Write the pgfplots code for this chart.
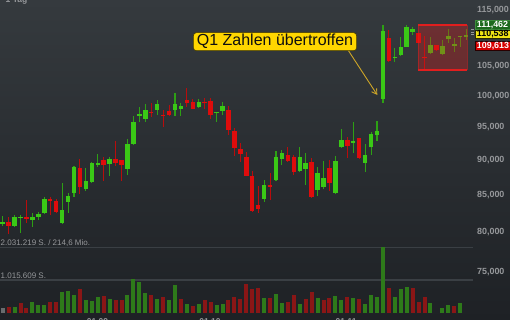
\documentclass[border=0pt]{standalone}
\usepackage{pgfplots}
\pgfplotsset{compat=1.18}
\usepackage{pgfplotstable}
\usepackage{fontspec}
\setmainfont{Liberation Sans}
\usetikzlibrary{arrows.meta}

\definecolor{bgtop}{RGB}{53,58,62}
\definecolor{bgbot}{RGB}{30,33,37}
\definecolor{cup}{RGB}{58,200,22}
\definecolor{cupw}{RGB}{45,160,20}
\definecolor{cdn}{RGB}{222,12,12}
\definecolor{cdnw}{RGB}{185,12,12}
\definecolor{vup}{RGB}{46,122,26}
\definecolor{vdn}{RGB}{138,22,22}
\definecolor{vgray}{RGB}{105,108,110}
\definecolor{lbl}{RGB}{150,152,155}
\definecolor{sepc}{RGB}{58,63,68}
\definecolor{boxred}{RGB}{225,30,30}
\definecolor{anno}{RGB}{255,214,0}
\definecolor{arrowc}{RGB}{205,165,40}
\definecolor{tagg}{RGB}{28,105,28}
\definecolor{tagy}{RGB}{240,228,20}
\definecolor{tagr}{RGB}{215,0,0}

% daily candles, index i = trading day
\pgfplotstableread{
i O H L C
0 81125 82190 80860 81320
2 80860 82370 80690 82100
3 81920 82290 79980 82100
5 81650 82640 80770 82020
6 82020 82770 81650 82460
7 82550 84710 82460 84550
10 81220 86700 81120 83000
11 84130 85380 82550 84960
12 85380 89190 84820 89080
14 85850 88850 85660 87070
15 86880 89730 86740 89580
16 89290 90910 89080 89670
18 89480 90550 87740 90250
21 88790 93250 87880 92400
22 92450 96830 92300 95830
23 96830 98260 95830 97050
24 96350 98690 95880 97680
26 97730 99340 96940 98690
29 97730 100430 96780 98690
30 97940 98810 96780 98370
33 98260 99450 98050 98930
36 97200 97420 95830 97410
37 97620 99010 96890 98370
44 84460 87170 84130 86460
46 87120 91400 86980 90510
47 90260 91500 89290 91060
50 88420 92040 88270 90550
51 88790 91060 86460 89620
53 85750 89080 84960 88170
54 86140 89920 85850 87500
56 85340 90660 85160 89960
57 91950 94790 91800 93050
59 92650 95880 91150 92900
61 89670 92500 88360 90800
62 91950 94280 90800 93970
63 93770 96030 92950 94430
64 99500 112290 98810 111190
66 106340 108090 105750 106570
67 106920 110160 106740 108270
68 108380 112230 108270 111870
69 111060 111980 110470 111500
72 107210 110160 107090 108620
74 107090 109570 106920 108500
75 109690 111500 108980 110290
76 108550 109870 107390 108800
77 110050 110300 108380 110290
78 110160 111462 109613 110538
}\upc

\pgfplotstableread{
i O H L C
1 81390 82060 79810 80860
4 82100 84370 81300 81750
8 84550 84780 82330 84270
9 84230 84460 82600 82690
13 88940 90210 85200 86140
17 90060 90550 87070 89290
19 90250 92860 89190 89580
20 90020 90030 86980 89380
25 97410 98900 96670 97200
27 96980 97730 95010 96780
28 97570 98530 96780 96980
31 99340 101260 98160 98850
32 99060 99450 97840 97890
34 98930 99610 97890 98770
35 99220 99610 96300 96980
38 97730 98370 93770 94590
39 94430 94850 90660 91890
40 91700 92560 89810 90950
41 90460 91290 87670 87740
42 87700 88460 82730 82860
43 83680 86360 82550 83140
45 86390 88220 84370 86210
48 90800 92040 89770 89870
49 90460 90850 87840 88320
52 89730 90360 84640 84820
55 88940 90060 85620 86790
58 93050 93560 90310 92190
60 93310 93320 90170 90400
65 109980 111370 105700 105870
70 110770 110830 108980 109090
71 106520 110290 104500 106310
73 108680 108730 107670 107790
}\dnc

% volume (shares)
\pgfplotstableread{
i V
2 178000
5 327000
6 234000
7 234000
10 654000
11 676000
12 542000
14 396000
15 380000
16 480000
18 442000
21 551000
22 1050000
23 956000
24 614000
26 436000
28 396000
29 854000
31 271000
33 271000
36 240000
37 280000
44 449000
46 573000
47 293000
50 280000
53 467000
56 520000
57 396000
59 449000
61 271000
62 542000
63 480000
64 2031219
66 498000
67 738000
68 791000
72 293000
74 156000
75 240000
77 302000
}\vupt

\pgfplotstableread{
i V
1 168000
3 302000
4 156000
8 333000
9 333000
13 738000
17 530000
19 402000
20 411000
25 551000
27 498000
30 427000
32 199000
34 396000
35 343000
38 396000
39 480000
40 436000
41 894000
42 729000
43 779000
45 467000
48 343000
49 542000
51 417000
52 636000
54 396000
55 467000
58 498000
60 427000
65 770000
69 770000
70 343000
71 498000
76 209000
}\vdnt

\pgfplotstableread{
i V
0 150000
}\vgrt

\pgfplotsset{
  candle/.style 2 args={draw=none, mark=none, mark options={opacity=0}, forget plot,
    error bars/.cd, y dir=plus, y explicit, error mark=none,
    error bar style={draw=#1, line width=#2, opacity=1}},
}

\begin{document}
\begin{tikzpicture}[x=1pt,y=1pt]
\shade[top color=bgtop, bottom color=bgbot] (0,0) rectangle (510,320);
\draw[sepc, line width=1.5pt] (0,72.5) -- (473,72.5);
\draw[sepc, line width=1.5pt] (0,40) -- (473,40);
\node[anchor=west, inner sep=0pt, text=lbl, font=\fontsize{8}{9}\selectfont] at (0.5,76.7) {2.031.219 S. / 214,6 Mio.};
\node[anchor=west, inner sep=0pt, text=lbl, font=\fontsize{8}{9}\selectfont] at (0.5,44.3) {1.015.609 S.};

\begin{axis}[at={(0pt,7.3pt)}, anchor=south west, width=472pt, height=65.2pt,
  scale only axis, xmin=-0.4545, xmax=78.99, ymin=0, ymax=2031219,
  hide axis, clip=false]
\addplot[ycomb, line width=4pt, color=vup, mark=none] table[x=i,y=V] \vupt;
\addplot[ycomb, line width=4pt, color=vdn, mark=none] table[x=i,y=V] \vdnt;
\addplot[ycomb, line width=4pt, color=vgray, mark=none] table[x=i,y=V] \vgrt;
\end{axis}

\begin{axis}[at={(0pt,0pt)}, anchor=south west, width=472pt, height=320pt,
  scale only axis, xmin=-0.4545, xmax=78.99,
  ymode=log, ymin=69348, ymax=116963,
  axis line style={draw=none}, tick style={draw=none}, major tick length=0pt,
  xtick={15.96,34.9,57.8}, xticklabels={01.09,01.10,01.11},
  xticklabel style={anchor=north, inner sep=0pt, yshift=2.0pt, text=lbl,
    font=\fontsize{8.5}{9}\selectfont\bfseries},
  ytick={75000,80000,85000,90000,95000,100000,105000,115000},
  yticklabels={{75,000},{80,000},{85,000},{90,000},{95,000},{100,000},{105,000},{115,000}},
  yticklabel pos=right,
  yticklabel style={anchor=west, inner sep=0pt, xshift=5pt, text=lbl,
    font=\fontsize{8.9}{10}\selectfont\bfseries},
  clip=false]
% wicks
\addplot[candle={cupw}{1.1pt}] table[x=i, y=L, y error plus expr=\thisrow{H}-\thisrow{L}] \upc;
\addplot[candle={cdnw}{1.1pt}] table[x=i, y=L, y error plus expr=\thisrow{H}-\thisrow{L}] \dnc;
% bodies
\addplot[candle={cup}{4.5pt}] table[x=i, y=O, y error plus expr=\thisrow{C}-\thisrow{O}] \upc;
\addplot[candle={cdn}{4.5pt}] table[x=i, y=C, y error plus expr=\thisrow{O}-\thisrow{C}] \dnc;
% range box
\fill[boxred, opacity=0.33] (axis cs:69.92,104380) rectangle (axis cs:78.17,112340);
\draw[boxred, line width=0.5pt, opacity=0.5] (axis cs:69.92,104380) -- (axis cs:69.92,112340)
  (axis cs:78.17,104380) -- (axis cs:78.17,112340);
\draw[boxred, line width=2pt] (axis cs:69.92,112340) -- (axis cs:78.17,112340);
\draw[boxred, line width=2pt] (axis cs:69.92,104380) -- (axis cs:78.17,104380);
\end{axis}

% annotation
\draw[arrowc, line width=0.9pt, -{Straight Barb[length=5pt,width=6pt]}] (348,270) -- (377.3,225);
\node[fill=anno, draw={rgb,255:red,70;green,60;blue,0}, line width=0.6pt, rounded corners=3pt,
  inner xsep=3.5pt, inner ysep=0pt, minimum height=18pt, text={rgb,255:red,15;green,15;blue,15},
  font=\fontsize{16}{18}\selectfont] at (275,278.3) {Q1 Zahlen übertroffen};

% price tags
\draw[lbl, line width=0.6pt] (471,290.2) -- (474,290.2) (471,287.6) -- (474,287.6) (471,285.2) -- (474,285.2);
\filldraw[fill=tagg, draw={rgb,255:red,60;green,140;blue,60}, line width=0.6pt] (475,291) rectangle (513,299.8);
\node[anchor=west, inner sep=0pt, text=white, font=\fontsize{8.9}{10}\selectfont\bfseries] at (476.7,295.4) {111,462};
\filldraw[fill=tagy, draw={rgb,255:red,40;green,40;blue,0}, line width=0.6pt] (475,281.3) rectangle (513,289.8);
\node[anchor=west, inner sep=0pt, text=black, font=\fontsize{8.9}{10}\selectfont\bfseries] at (476.7,285.5) {110,538};
\filldraw[fill=tagr, draw={rgb,255:red,40;green,0;blue,0}, line width=0.6pt] (475,269.3) rectangle (513,279);
\node[anchor=west, inner sep=0pt, text=white, font=\fontsize{8.9}{10}\selectfont\bfseries] at (476.7,274.2) {109,613};

\node[anchor=base west, inner sep=0pt, text=lbl, font=\fontsize{8.5}{9}\selectfont\bfseries] at (5.5,317.3) {1 Tag};

\pgfresetboundingbox
\useasboundingbox (0,0) rectangle (510,320);
\end{tikzpicture}
\end{document}
